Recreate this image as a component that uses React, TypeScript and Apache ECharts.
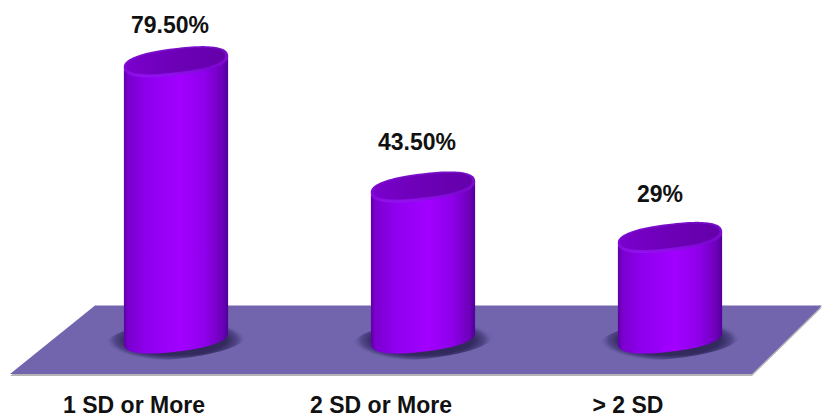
import React, { useEffect, useRef } from "react";
import * as echarts from "echarts";

const categories = ["1 SD or More", "2 SD or More", "> 2 SD"];
const values = [79.5, 43.5, 29];
const valueLabels = ["79.50%", "43.50%", "29%"];

// Cylinder footprint: a slightly rotated, slightly squared-off ellipse
const RX = 52.5;
const RY = 13.6;
const TILT = (-7 * Math.PI) / 180;
const ROUNDING = 0.82;
const labelNudge = [
  [-6, -37],
  [-6, -45.5],
  [-10, -44],
];
const FONT = '"Liberation Sans", Arial, sans-serif';

function ellipsePoint(cx: number, cy: number, a: number, b: number, t: number) {
  const rawC = Math.cos(t);
  const rawS = Math.sin(t);
  const c = Math.sign(rawC) * Math.pow(Math.abs(rawC), ROUNDING);
  const s = Math.sign(rawS) * Math.pow(Math.abs(rawS), ROUNDING);
  return [
    cx + a * c * Math.cos(TILT) - b * s * Math.sin(TILT),
    cy + a * c * Math.sin(TILT) + b * s * Math.cos(TILT),
  ];
}

function ellipsePoints(cx: number, cy: number, a: number, b: number) {
  const pts: number[][] = [];
  for (let i = 0; i < 120; i++) pts.push(ellipsePoint(cx, cy, a, b, (i / 120) * Math.PI * 2));
  return pts;
}

// Outline of the body: the whole top rim is covered by the cap, so the side runs up past its front edge
function bodyPoints(cx: number, topY: number, baseY: number) {
  const pts: number[][] = [];
  for (let i = 0; i <= 60; i++) pts.push(ellipsePoint(cx, baseY - 1, RX, RY, (i / 60) * Math.PI));
  for (let i = 0; i <= 60; i++) pts.push(ellipsePoint(cx, topY - 1, RX, RY - 2, Math.PI - (i / 60) * Math.PI));
  return pts;
}

const sideFill = () =>
  new echarts.graphic.LinearGradient(0, 0, 1, 0, [
    { offset: 0, color: "#5e00a8" },
    { offset: 0.05, color: "#7c00d0" },
    { offset: 0.25, color: "#9000f0" },
    { offset: 0.55, color: "#a200ff" },
    { offset: 0.78, color: "#8e00ea" },
    { offset: 0.94, color: "#6e00ba" },
    { offset: 1, color: "#50009a" },
  ]);

function renderCylinder(params: any, api: any) {
  const i = params.dataIndex;
  const [cx, topY] = api.coord([api.value(0), api.value(1)]);
  const [, baseY] = api.coord([api.value(0), 0]);
  const nudge = labelNudge[i];
  return {
    type: "group",
    children: [
      {
        type: "polygon",
        shape: { points: ellipsePoints(cx, baseY + 1, 72, 19) },
        style: {
          fill: new echarts.graphic.RadialGradient(0.5, 0.5, 0.5, [
            { offset: 0, color: "#2c2350" },
            { offset: 0.7, color: "#332a5e" },
            { offset: 0.86, color: "#524789" },
            { offset: 1, color: "rgba(114,101,174,0)" },
          ]),
        },
      },
      { type: "polygon", shape: { points: bodyPoints(cx, topY, baseY) }, style: { fill: sideFill() } },
      {
        type: "polygon",
        shape: { points: ellipsePoints(cx, topY - 0.6, RX, RY) },
        style: {
          fill: new echarts.graphic.LinearGradient(0, 0, 0, 1, [
            { offset: 0, color: "#7a10c8" },
            { offset: 0.7, color: "#7e06d2" },
            { offset: 1, color: "#9412f0" },
          ]),
        },
      },
      {
        type: "polygon",
        shape: { points: ellipsePoints(cx, topY - 1.4, RX - 3, RY - 2.4) },
        style: {
          fill: new echarts.graphic.LinearGradient(0, 0, 1, 0, [
            { offset: 0, color: "#7a00cc" },
            { offset: 0.5, color: "#6c00b6" },
            { offset: 1, color: "#6400aa" },
          ]),
        },
      },
      {
        type: "text",
        style: {
          x: cx + nudge[0],
          y: topY + nudge[1],
          text: valueLabels[i],
          font: `bold 23px ${FONT}`,
          fill: "#111111",
          align: "center",
          verticalAlign: "middle",
        },
      },
    ],
  };
}

const option = {
  animation: false,
  backgroundColor: "#ffffff",
  grid: [
    { left: 52.5, right: 28.5, top: 25.8, height: 313.2 },
    { left: 10.5, right: 70.5, top: 25.8, height: 313.2 },
  ],
  xAxis: [
    { type: "category", gridIndex: 0, data: categories, axisLine: { show: false }, axisTick: { show: false }, axisLabel: { show: false } },
    {
      type: "category",
      gridIndex: 1,
      data: categories,
      axisLine: { show: false },
      axisTick: { show: false },
      axisLabel: { margin: 54, fontFamily: FONT, fontWeight: "bold", fontSize: 23, color: "#111111" },
    },
  ],
  yAxis: [
    { type: "value", gridIndex: 0, min: 0, max: 90, show: false },
    { type: "value", gridIndex: 1, min: 0, max: 90, show: false },
  ],
  graphic: [
    {
      type: "polygon",
      z: -2,
      shape: { points: [[95, 307.5], [822, 307.5], [752, 376], [10, 376]] },
      style: { fill: "#b4b4b4" },
    },
    {
      type: "polygon",
      z: -1,
      shape: { points: [[95, 305.5], [822, 305.5], [752, 374], [10, 374]] },
      style: { fill: "#7265ae" },
    },
  ],
  series: [
    {
      type: "custom",
      xAxisIndex: 0,
      yAxisIndex: 0,
      clip: false,
      encode: { x: 0, y: 1 },
      data: values.map((v, i) => [i, v]),
      renderItem: renderCylinder,
    },
  ],
};

export default function App() {
  const ref = useRef<HTMLDivElement>(null);
  useEffect(() => {
    const chart = echarts.init(ref.current!, undefined, { renderer: "svg" });
    chart.setOption(option);
    return () => chart.dispose();
  }, []);
  return <div ref={ref} style={{ position: "fixed", left: 0, top: 0, width: 822, height: 416 }} />;
}
